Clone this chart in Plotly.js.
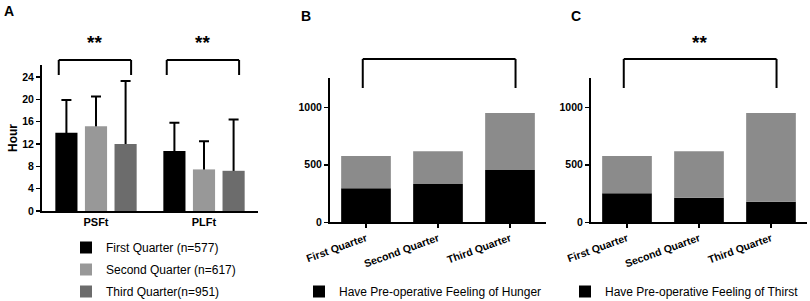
<!DOCTYPE html>
<html>
<head>
<meta charset="utf-8">
<script src="https://cdn.plot.ly/plotly-3.0.1.min.js"></script>
<style>html,body{margin:0;padding:0;background:#fff;}#chart{width:810px;height:301px;}</style>
</head>
<body>
<div id="chart"></div>
<script>
// ---- Data ----
const fastingCategories = ['PSFt', 'PLFt'];
const quarterNames = ['First Quarter (n=577)', 'Second Quarter (n=617)', 'Third Quarter(n=951)'];
const meanFirstQuarter = [14.0, 10.75];
const sdFirstQuarter = [5.9, 5.05];
const meanSecondQuarter = [15.2, 7.45];
const sdSecondQuarter = [5.3, 5.05];
const meanThirdQuarter = [12.0, 7.2];
const sdThirdQuarter = [11.3, 9.2];

const quarterCategories = ['First Quarter', 'Second Quarter', 'Third Quarter'];
const quarterTotals = [577, 617, 951];
const hungerCounts = [296, 333, 455];
const thirstCounts = [252, 214, 179];

const hungerLabel = 'Have Pre-operative Feeling of Hunger';
const thirstLabel = 'Have Pre-operative Feeling of Thirst';
const yTitleA = 'Hour';
const significanceMark = '**';

// ---- Styles ----
const FONT = 'Liberation Sans, Arial, sans-serif';
const quarterColors = ['#000000', '#989898', '#6c6c6c'];
const restColor = '#8b8b8b';
const W = 810, H = 301;
const px = v => v / W;
const py = v => 1 - v / H;

const groupStep = 0.274, barWidthA = 0.205, barWidthBC = 0.69;
const meansA = [meanFirstQuarter, meanSecondQuarter, meanThirdQuarter];
const sdsA = [sdFirstQuarter, sdSecondQuarter, sdThirdQuarter];

const traces = [];
// error bars first (drawn behind the bars so only the upper half shows)
meansA.forEach((m, k) => {
  traces.push({
    type: 'bar', x: fastingCategories, y: m, name: quarterNames[k] + ' SD', showlegend: false,
    xaxis: 'x', yaxis: 'y',
    width: barWidthA, offset: (k - 1) * groupStep - barWidthA / 2,
    marker: {color: 'rgba(0,0,0,0)', line: {width: 0}},
    error_y: {type: 'data', symmetric: true, array: sdsA[k], color: '#000', thickness: 2, width: 5}
  });
});
meansA.forEach((m, k) => {
  traces.push({
    type: 'bar', x: fastingCategories, y: m, name: quarterNames[k],
    xaxis: 'x', yaxis: 'y', legend: 'legend', legendgroup: 'g' + k,
    width: barWidthA, offset: (k - 1) * groupStep - barWidthA / 2,
    marker: {color: quarterColors[k], line: {width: 0}}
  });
});

function stacked(counts, label, xa, ya, lg) {
  traces.push({
    type: 'bar', x: quarterCategories, y: counts, name: label,
    xaxis: xa, yaxis: ya, legend: lg, width: barWidthBC,
    marker: {color: '#000', line: {width: 0}}
  });
  traces.push({
    type: 'bar', x: quarterCategories, y: quarterTotals.map((t, i) => t - counts[i]),
    base: counts, name: 'Other', showlegend: false,
    xaxis: xa, yaxis: ya, width: barWidthBC,
    marker: {color: restColor, line: {width: 0}}
  });
}
stacked(hungerCounts, hungerLabel, 'x2', 'y2', 'legend2');
stacked(thirstCounts, thirstLabel, 'x3', 'y3', 'legend3');

const tickFont = {family: FONT, size: 10.5, color: '#000', weight: 'bold'};
const baseAxis = {showline: true, linecolor: '#000', linewidth: 2, showgrid: false, zeroline: false,
  tickfont: tickFont, fixedrange: true};

// brackets
const shapes = [];
function bracket(xref, x0, x1, yTop, yBot) {
  const ln = {color: '#000', width: 2};
  shapes.push({type: 'line', xref, yref: 'paper', x0, x1: x0, y0: yBot, y1: yTop, line: ln});
  shapes.push({type: 'line', xref, yref: 'paper', x0, x1, y0: yTop, y1: yTop, line: ln});
  shapes.push({type: 'line', xref, yref: 'paper', x0: x1, x1, y0: yTop, y1: yBot, line: ln});
}
fastingCategories.forEach((c, i) => bracket('x', i - 0.345, i + 0.325, py(60), py(75)));
bracket('x2', -0.045, 2.077, py(59), py(88));
bracket('x3', -0.045, 2.077, py(59), py(88));

const annotations = [];
const starFont = {family: FONT, size: 19, color: '#000', weight: 'bold'};
fastingCategories.forEach((c, i) => annotations.push({xref: 'x', yref: 'paper', x: i - 0.01, y: py(43),
  xanchor: 'center', yanchor: 'middle', text: significanceMark, showarrow: false, font: starFont}));
annotations.push({xref: 'x3', yref: 'paper', x: 1.01, y: py(42), xanchor: 'center', yanchor: 'middle',
  text: significanceMark, showarrow: false, font: starFont});
const panelFont = {family: FONT, size: 14, color: '#000', weight: 'bold'};
[['A', 9, 11], ['B', 306, 16], ['C', 576, 16]].forEach(([t, x, y]) =>
  annotations.push({xref: 'paper', yref: 'paper', x: px(x), y: py(y), xanchor: 'center', yanchor: 'middle',
    text: t, showarrow: false, font: panelFont}));

const legendFont = {family: FONT, size: 12, color: '#000'};
const catFont = Object.assign({}, tickFont, {size: 10.5});
const layout = {
  width: W, height: H, margin: {l: 0, r: 0, t: 0, b: 0, autoexpand: false},
  paper_bgcolor: '#fff', plot_bgcolor: '#fff',
  font: {family: FONT, color: '#000'},
  barmode: 'overlay', hovermode: false,
  xaxis: Object.assign({}, baseAxis, {domain: [px(42), px(258)], range: [-0.5, 1.5], ticks: '',
    tickfont: Object.assign({}, tickFont, {size: 11})}),
  yaxis: Object.assign({}, baseAxis, {domain: [py(211), py(65)], range: [0, 26.15], dtick: 4,
    ticks: 'outside', ticklen: 4, tickwidth: 1.5, tickcolor: '#000',
    title: {text: yTitleA, font: {family: FONT, size: 12, color: '#000', weight: 'bold'}, standoff: 2}}),
  xaxis2: Object.assign({}, baseAxis, {domain: [px(330), px(546)], range: [-0.5, 2.5], anchor: 'y2',
    ticks: 'outside', ticklen: 4, tickwidth: 1.5, tickcolor: '#000', tickangle: -20, tickfont: catFont}),
  yaxis2: Object.assign({}, baseAxis, {domain: [py(222.3), py(78)], range: [0, 1255], dtick: 500, anchor: 'x2',
    ticks: 'outside', ticklen: 4, tickwidth: 1.5, tickcolor: '#000'}),
  xaxis3: Object.assign({}, baseAxis, {domain: [px(591), px(807)], range: [-0.5, 2.5], anchor: 'y3',
    ticks: 'outside', ticklen: 4, tickwidth: 1.5, tickcolor: '#000', tickangle: -20, tickfont: catFont}),
  yaxis3: Object.assign({}, baseAxis, {domain: [py(222.3), py(78)], range: [0, 1255], dtick: 500, anchor: 'x3',
    ticks: 'outside', ticklen: 4, tickwidth: 1.5, tickcolor: '#000'}),
  legend: {x: px(66), y: py(233), xanchor: 'left', yanchor: 'top', font: legendFont,
    bgcolor: 'rgba(0,0,0,0)', tracegroupgap: 3, traceorder: 'grouped'},
  legend2: {x: px(299), y: py(277), xanchor: 'left', yanchor: 'top', font: legendFont, bgcolor: 'rgba(0,0,0,0)'},
  legend3: {x: px(565), y: py(277), xanchor: 'left', yanchor: 'top', font: legendFont, bgcolor: 'rgba(0,0,0,0)'},
  shapes, annotations
};
Plotly.newPlot('chart', traces, layout, {staticPlot: true, displayModeBar: false});
</script>
</body>
</html>
